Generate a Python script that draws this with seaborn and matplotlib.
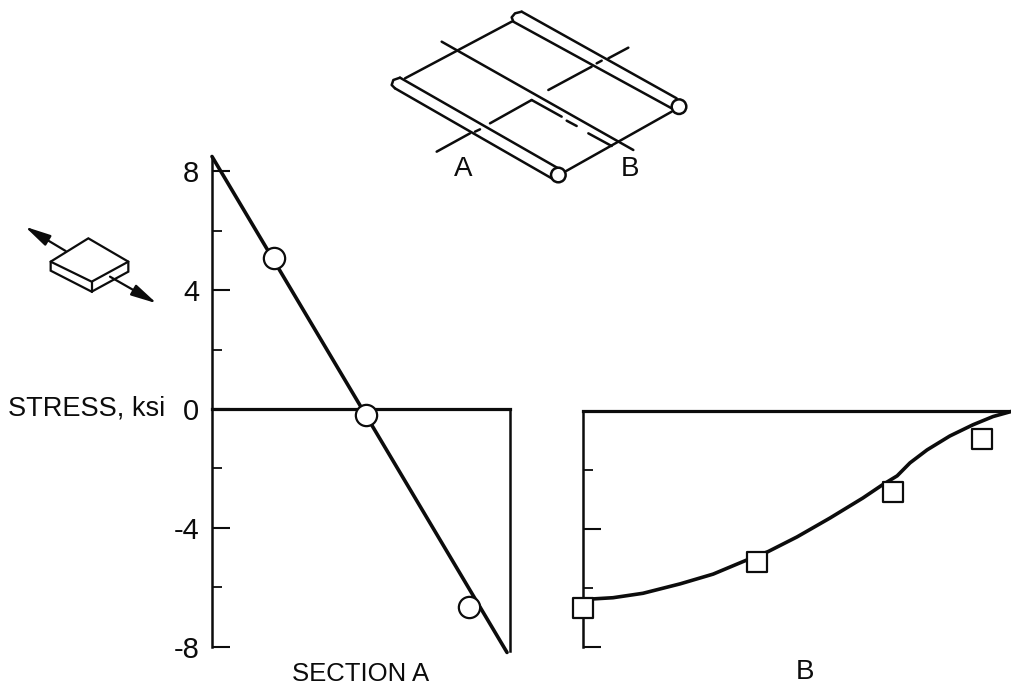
import matplotlib
matplotlib.use('Agg')
import matplotlib.pyplot as plt
import pandas as pd
import seaborn as sns
from matplotlib.patches import Circle, Polygon

# valores (x = fracao da largura da secao, y = ksi)
a_line_x = [0.0, 0.99]
a_line_y = [8.5, -8.2]
a_points_x = [0.208, 0.517, 0.862]
a_points_y = [5.08, -0.2, -6.67]

b_line_x = [0.0, 0.024, 0.07, 0.14, 0.227, 0.304, 0.383, 0.432, 0.50, 0.577, 0.654, 0.699, 0.734, 0.764, 0.804, 0.857, 0.911, 0.958, 1.0]
b_line_y = [-6.42, -6.37, -6.33, -6.18, -5.86, -5.53, -5.05, -4.77, -4.27, -3.63, -2.95, -2.51, -2.2, -1.76, -1.32, -0.85, -0.47, -0.19, -0.02]
b_points_x = [0.0, 0.407, 0.724, 0.932]
b_points_y = [-6.68, -5.12, -2.75, -0.95]

major_ticks = [8, 4, 0, -4, -8]
minor_ticks = [6, 2, -2, -6]
b_major_ticks = [-4, -8]
b_minor_ticks = [-2, -6]

W, H = 1011, 687
INK = '#0c0c0c'
FS = 20

sns.set_theme(style='white')
plt.rcParams['font.family'] = ['Liberation Sans', 'DejaVu Sans']
plt.rcParams['text.color'] = INK
plt.rcParams['axes.labelcolor'] = INK
plt.rcParams['xtick.color'] = INK
plt.rcParams['ytick.color'] = INK

fig = plt.figure(figsize=(W / 100, H / 100), dpi=100, facecolor='white')


def axes_px(left, right, top, bottom):
    return fig.add_axes([left / W, 1 - bottom / H, (right - left) / W, (bottom - top) / H])


def style_panel(ax, ymin, ymax):
    ax.set_xlim(0, 1)
    ax.set_ylim(ymin, ymax)
    ax.patch.set_alpha(0)
    ax.set_xticks([])
    ax.spines['bottom'].set_visible(False)
    ax.spines['top'].set_position(('data', 0))
    for s in ['left', 'top', 'right']:
        ax.spines[s].set_color(INK)
        ax.spines[s].set_linewidth(1.8)
    ax.spines['top'].set_linewidth(2.3)


# secao A
ax_a = axes_px(212, 510, 156.5, 646.5)
style_panel(ax_a, -8, 8.5)
ax_a.spines['right'].set_bounds(-8.15, 0)
ax_a.set_yticks(major_ticks)
ax_a.set_yticks(minor_ticks, minor=True)
ax_a.set_yticklabels([str(t) for t in major_ticks], fontsize=21)
ax_a.tick_params(axis='y', which='major', left=True, direction='in', length=13, width=1.5, pad=9)
ax_a.tick_params(axis='y', which='minor', left=True, direction='in', length=7, width=1.3)
sns.lineplot(x=a_line_x, y=a_line_y, ax=ax_a, color=INK, linewidth=2.6, clip_on=False, zorder=3)
sns.scatterplot(data=pd.DataFrame({'x': a_points_x, 'y': a_points_y}), x='x', y='y', ax=ax_a,
                marker='o', s=235, facecolor='white', edgecolor=INK, linewidth=1.6,
                clip_on=False, zorder=4)
ax_a.set_ylabel('STRESS, ksi', rotation=0, ha='right', va='center', fontsize=19.5)
ax_a.yaxis.set_label_coords(-0.158, 0.0, transform=ax_a.get_yaxis_transform())
# o seaborn esconde o rotulo quando nao ha ticks em x
ax_a.set_xlabel('SECTION A', fontsize=18.5, va='center', visible=True)
ax_a.xaxis.set_label_coords(0.5, -0.057)

# secao B
ax_b = axes_px(583, 1011, 161, 647)
style_panel(ax_b, -8, 8.47)
ax_b.spines['right'].set_visible(False)
ax_b.spines['left'].set_bounds(-8, 0)
ax_b.set_yticks(b_major_ticks)
ax_b.set_yticks(b_minor_ticks, minor=True)
ax_b.set_yticklabels([])
ax_b.tick_params(axis='y', which='major', left=True, direction='in', length=13, width=1.5)
ax_b.tick_params(axis='y', which='minor', left=True, direction='in', length=7, width=1.3)
sns.lineplot(x=b_line_x, y=b_line_y, ax=ax_b, color=INK, linewidth=2.6, clip_on=False, zorder=3)
sns.scatterplot(data=pd.DataFrame({'x': b_points_x, 'y': b_points_y}), x='x', y='y', ax=ax_b,
                marker='s', s=200, facecolor='white', edgecolor=INK, linewidth=1.6,
                clip_on=False, zorder=4)
ax_b.set_ylabel('')
ax_b.set_xlabel('B', fontsize=FS, va='center', visible=True)
ax_b.xaxis.set_label_coords(0.519, -0.052)

# desenhos esquematicos, em pixels
ov = fig.add_axes([0, 0, 1, 1])
ov.set_xlim(0, W)
ov.set_ylim(H, 0)
ov.axis('off')
ov.patch.set_alpha(0)


def pz(x, y):
    return 380 + x / 3, y / 3


def seg(*pts, lw=1.8):
    xy = [pz(*p) for p in pts]
    ov.plot([p[0] for p in xy], [p[1] for p in xy], color=INK, lw=lw, solid_capstyle='round')


# placa
seg((75, 235), (395, 65))
seg((555, 515), (875, 335))
seg((185, 125), (760, 450))
seg((455, 300), (545, 350))
seg((560, 362), (590, 378))
seg((625, 400), (695, 438))
seg((170, 455), (270, 400))
seg((285, 395), (300, 388))
seg((330, 370), (455, 300))
seg((505, 270), (635, 200))
seg((650, 190), (665, 182))
seg((685, 175), (745, 143))
# tubos
seg((60, 233), (540, 508))
seg((45, 265), (515, 535))
seg((60, 233), (40, 240), (35, 255), (45, 265))
seg((425, 35), (890, 295))
seg((400, 65), (875, 325))
seg((425, 35), (405, 40), (395, 52), (400, 65))
for cx, cy in [(535, 525), (897, 320)]:
    ov.add_patch(Circle(pz(cx, cy), 7.3, facecolor='white', edgecolor=INK, lw=1.8, zorder=3))
ov.text(463, 169, 'A', fontsize=FS, ha='center', va='center')
ov.text(630, 169, 'B', fontsize=FS, ha='center', va='center')


def pe(x, y):
    return x / 3, 150 + y / 3


# elemento de tensao
ov.add_patch(Polygon([pe(160, 330), pe(265, 265), pe(385, 335), pe(385, 365), pe(275, 425), pe(152, 362), pe(152, 335)],
                     closed=True, facecolor='white', edgecolor=INK, lw=1.6))
ov.plot(*zip(pe(152, 335), pe(275, 395), pe(385, 335)), color=INK, lw=1.6)
ov.plot(*zip(pe(275, 395), pe(275, 425)), color=INK, lw=1.6)
arrow = dict(arrowstyle='-|>,head_length=1.3,head_width=0.3', color=INK, lw=1.6, shrinkA=0, shrinkB=0)
ov.annotate('', xy=pe(75, 230), xytext=pe(197, 303), arrowprops=arrow)
ov.annotate('', xy=pe(470, 460), xytext=pe(330, 380), arrowprops=arrow)

fig.savefig('out.png', dpi=100, facecolor='white')
